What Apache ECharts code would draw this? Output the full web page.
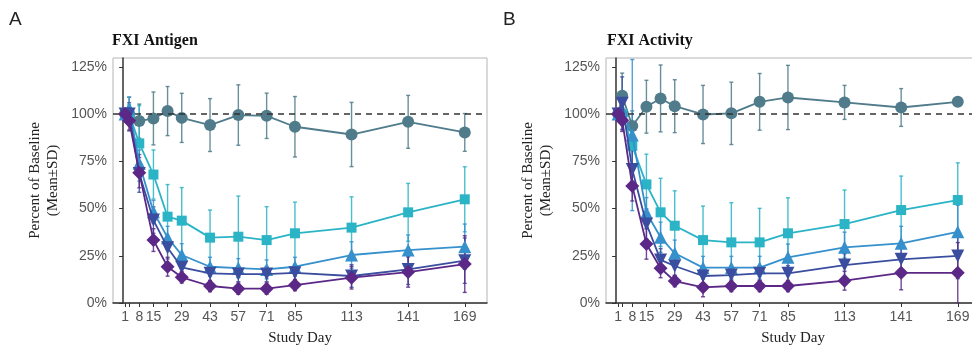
<!DOCTYPE html>
<html>
<head>
<meta charset="utf-8">
<script src="https://cdn.jsdelivr.net/npm/echarts@6/dist/echarts.min.js"></script>
<style>
  html, body { margin: 0; padding: 0; background: #fff; }
  #chart { width: 972px; height: 348px; }
</style>
</head>
<body>
<div id="chart"></div>
<script>
// study days (sampling points) and labelled ticks
const days = [1, 3, 8, 15, 22, 29, 43, 57, 71, 85, 113, 141, 169];
const labelDays = [1, 8, 15, 29, 43, 57, 71, 85, 113, 141, 169];
const yTicks = [0, 25, 50, 75, 100, 125];

// Panel A - FXI Antigen (mean and SD, % of baseline)
const antigenPlacebo = [100, 100, 96.3, 97.7, 101.6, 98, 94.2, 99.5, 99.1, 93.3, 89.2, 95.9, 90.3];
const antigenPlaceboSd = [0, 9, 9, 14, 13, 13, 14, 16, 12, 16, 17, 14, 10];
const antigenCyan = [100, 100, 84.5, 68, 45.7, 43.6, 34.6, 35.1, 33.3, 36.9, 39.9, 48, 54.9];
const antigenCyanSd = [0, 5, 20, 13, 17, 17.5, 14.6, 21.5, 17.7, 16.5, 16.3, 15.3, 17.2];
const antigenBlue = [100, 103, 74, 48.3, 34.6, 25.4, 19.2, 18.5, 17.8, 19.2, 25.4, 28, 29.8];
const antigenBlueSd = [0, 6, 7, 6, 6, 6, 5, 5, 5, 5, 7, 8, 12];
const antigenIndigo = [100, 100, 68.6, 43.9, 29.3, 18.9, 15.7, 15.3, 15.3, 16, 14.3, 17.8, 22.4];
const antigenIndigoSd = [0, 6, 10, 7, 6, 4, 4, 4, 4, 4, 6, 8, 12];
const antigenPurple = [100, 96.5, 69, 33.3, 19.2, 13.6, 9, 7.6, 7.6, 9.5, 13.4, 16.4, 20.6];
const antigenPurpleSd = [0, 5, 8, 6, 5, 3, 3, 3, 3, 3, 6, 8, 15];

// Panel B - FXI Activity
const activityPlacebo = [100, 109.7, 93.7, 103.9, 108.3, 104.2, 99.8, 100.4, 106.5, 108.8, 106.2, 103.5, 106.5];
const activityPlaceboSd = [0, 12, 8, 14, 17.7, 14, 15.4, 16.5, 15, 17, 9, 10, 1.5];
const activityCyan = [100, 100, 83.2, 62.8, 48, 40.9, 33.3, 32.1, 32.1, 36.9, 41.8, 49.2, 54.5];
const activityCyanSd = [0, 8, 10, 16, 18, 18.5, 18, 21, 18, 18.8, 18, 18, 19.7];
const activityBlue = [100, 102, 88.9, 47.8, 34.8, 26.3, 18.7, 18.7, 18.7, 24.2, 29.5, 31.6, 37.7];
const activityBlueSd = [0, 8, 40, 8, 8, 7, 6, 6, 6, 7, 8, 9, 14];
const activityIndigo = [100, 105.7, 70.7, 41.8, 22.8, 19.6, 14.3, 14.8, 15.7, 15.7, 20.1, 23.1, 24.9];
const activityIndigoSd = [0, 14, 10, 8, 6, 5, 4, 4, 4, 4, 6, 8, 12];
const activityPurple = [100, 96.8, 62, 31.2, 18.4, 11.6, 8.3, 9, 9, 9, 11.8, 16, 16];
const activityPurpleSd = [0, 6, 8, 8, 5, 3, 5, 3, 3, 3, 5, 9, 16];

const groups = [
  { color: '#4f7b8a', symbol: 'circle', size: 12, rotate: 0 },
  { color: '#2bb3c6', symbol: 'rect', size: 10, rotate: 0 },
  { color: '#3590cc', symbol: 'triangle', size: 13, rotate: 0 },
  { color: '#3a4d9e', symbol: 'triangle', size: 13, rotate: 180 },
  { color: '#5b2887', symbol: 'diamond', size: 14, rotate: 0 }
];

const panels = [
  { means: [antigenPlacebo, antigenCyan, antigenBlue, antigenIndigo, antigenPurple],
    sds: [antigenPlaceboSd, antigenCyanSd, antigenBlueSd, antigenIndigoSd, antigenPurpleSd] },
  { means: [activityPlacebo, activityCyan, activityBlue, activityIndigo, activityPurple],
    sds: [activityPlaceboSd, activityCyanSd, activityBlueSd, activityIndigoSd, activityPurpleSd] }
];

const chart = echarts.init(document.getElementById('chart'));

const labelFont = { color: '#555', fontFamily: 'Liberation Sans, Arial, sans-serif', fontSize: 14 };
const serif = 'Liberation Serif, Times New Roman, serif';

function errorSeries(p, mean, sd, color) {
  return {
    type: 'custom',
    xAxisIndex: p, yAxisIndex: p,
    clip: true,
    silent: true,
    z: 2,
    data: days.map((d, i) => [d, mean[i] - sd[i], mean[i] + sd[i]]).filter((r, i) => sd[i] > 0),
    renderItem: (params, api) => {
      const lo = api.coord([api.value(0), api.value(1)]);
      const hi = api.coord([api.value(0), api.value(2)]);
      const st = { stroke: color, lineWidth: 1.4, opacity: 0.85 };
      const w = 2;
      return {
        type: 'group',
        children: [
          { type: 'line', shape: { x1: lo[0], y1: lo[1], x2: hi[0], y2: hi[1] }, style: st },
          { type: 'line', shape: { x1: lo[0] - w, y1: lo[1], x2: lo[0] + w, y2: lo[1] }, style: st },
          { type: 'line', shape: { x1: hi[0] - w, y1: hi[1], x2: hi[0] + w, y2: hi[1] }, style: st }
        ]
      };
    }
  };
}

const series = [];
panels.forEach((panel, p) => {
  panel.means.forEach((mean, g) => {
    series.push(errorSeries(p, mean, panel.sds[g], groups[g].color));
  });
  panel.means.forEach((mean, g) => {
    const grp = groups[g];
    const s = {
      type: 'line',
      xAxisIndex: p, yAxisIndex: p,
      data: days.map((d, i) => [d, mean[i]]),
      symbol: grp.symbol,
      symbolSize: grp.size,
      symbolRotate: grp.rotate,
      showAllSymbol: true,
      lineStyle: { color: grp.color, width: 1.8 },
      itemStyle: { color: grp.color },
      z: 3 + g,
      animation: false
    };
    if (g === 0) {
      s.markLine = {
        silent: true,
        symbol: 'none',
        label: { show: false },
        lineStyle: { color: '#333', type: [6, 5], width: 1.7 },
        data: [{ yAxis: 100 }]
      };
    }
    series.push(s);
  });
});

const grids = [
  { left: 113, top: 58, width: 374, height: 245 },
  { left: 606, top: 58, width: 374, height: 245 }
].map(g => Object.assign(g, {
  show: true, borderColor: '#b5b5b5', borderWidth: 1, backgroundColor: 'transparent',
  containLabel: false, outerBoundsMode: 'none'
}));

const xAxes = [0, 1].map(p => ({
  type: 'value', gridIndex: p, min: -5, max: 180,
  name: 'Study Day', nameLocation: 'middle', nameGap: 28,
  nameTextStyle: { color: '#222', fontFamily: serif, fontSize: 15 },
  axisLine: { show: true, lineStyle: { color: '#333', width: 1.5 } },
  axisTick: { show: true, length: 4, lineStyle: { color: '#333' }, customValues: days },
  axisLabel: Object.assign({ margin: 7, customValues: labelDays }, labelFont),
  splitLine: { show: false }
}));

const yAxes = [0, 1].map(p => ({
  type: 'value', gridIndex: p, min: 0, max: 129.7,
  name: 'Percent of Baseline\n(Mean\u00b1SD)', nameLocation: 'middle', nameGap: 51,
  nameTextStyle: { color: '#222', fontFamily: serif, fontSize: 15, lineHeight: 18 },
  axisLine: { show: true, lineStyle: { color: '#333', width: 1.5 } },
  axisTick: { show: true, length: 4, lineStyle: { color: '#333' }, customValues: yTicks },
  axisLabel: Object.assign({ margin: 6, customValues: yTicks, formatter: v => v + '%' }, labelFont),
  splitLine: { show: false }
}));

chart.setOption({
  animation: false,
  backgroundColor: '#fff',
  title: [
    { text: 'FXI Antigen', left: 112, top: 33, padding: 0,
      textStyle: { fontFamily: serif, fontWeight: 'bold', fontSize: 16, color: '#111' } },
    { text: 'FXI Activity', left: 607, top: 33, padding: 0,
      textStyle: { fontFamily: serif, fontWeight: 'bold', fontSize: 16, color: '#111' } }
  ],
  graphic: [
    { type: 'text', left: 9, top: 10, style: { text: 'A', fontSize: 19, fontFamily: 'Liberation Sans, Arial, sans-serif', fill: '#222' } },
    { type: 'text', left: 503, top: 10, style: { text: 'B', fontSize: 19, fontFamily: 'Liberation Sans, Arial, sans-serif', fill: '#222' } }
  ],
  grid: grids,
  xAxis: xAxes,
  yAxis: yAxes,
  series: series
});
</script>
</body>
</html>
